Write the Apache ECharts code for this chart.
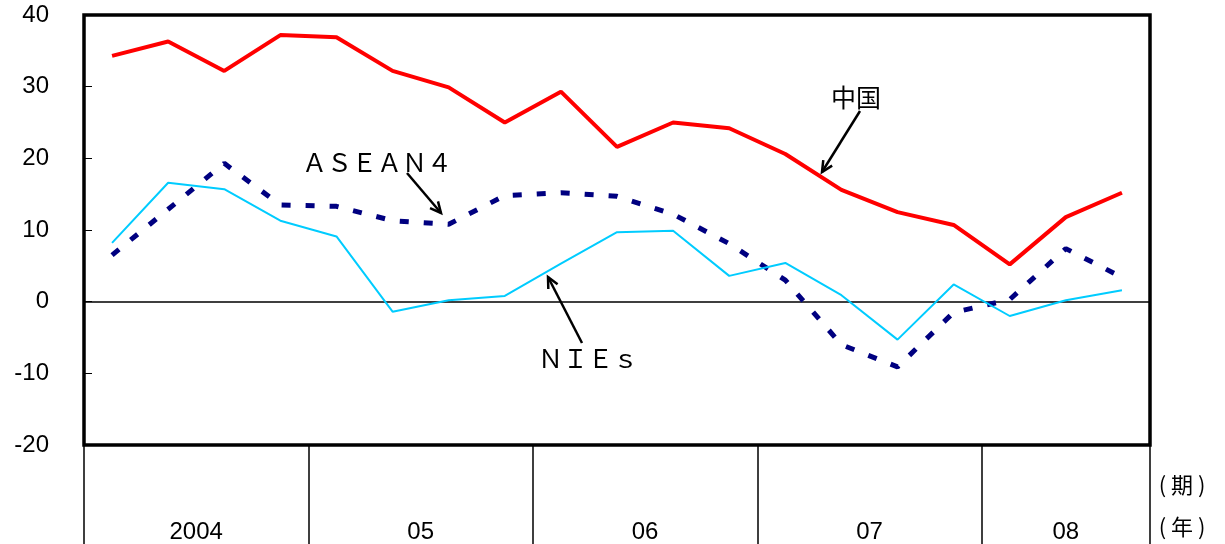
<!DOCTYPE html>
<html>
<head>
<meta charset="utf-8">
<script src="https://cdn.jsdelivr.net/npm/echarts@6/dist/echarts.min.js"></script>
<style>
  html, body { margin: 0; padding: 0; background: #fff; }
  #chart { width: 1225px; height: 544px; }
</style>
</head>
<body>
<div id="chart"></div>
<script>
// Quarterly year-on-year growth (%), 2004 Q1 – 2008 Q3
const quarters = [
  '2004Q1','2004Q2','2004Q3','2004Q4',
  '2005Q1','2005Q2','2005Q3','2005Q4',
  '2006Q1','2006Q2','2006Q3','2006Q4',
  '2007Q1','2007Q2','2007Q3','2007Q4',
  '2008Q1','2008Q2','2008Q3'
];
const china  = [34.3, 36.3, 32.2, 37.2, 36.9, 32.2, 29.9, 25.0, 29.3, 21.6, 25.0, 24.2, 20.6, 15.6, 12.5, 10.7, 5.2, 11.8, 15.2];
const asean4 = [6.5, 12.9, 19.3, 13.5, 13.3, 11.3, 10.8, 14.8, 15.2, 14.7, 12.2, 8.1, 3.0, -6.0, -9.1, -1.5, 0.3, 7.4, 3.4];
const nies   = [8.2, 16.6, 15.7, 11.3, 9.1, -1.4, 0.2, 0.8, 5.3, 9.7, 9.9, 3.6, 5.4, 0.9, -5.3, 2.4, -2.0, 0.2, 1.6];

// Year groups along the bottom
const yearLabels = ['2004', '05', '06', '07', '08'];
const quartersPerYear = [4, 4, 4, 4, 3];

// Y axis range
const yMin = -20, yMax = 40, yStep = 10;

// Year boundaries and label centres, in quarter units
const yearBounds = [0];
quartersPerYear.forEach(n => yearBounds.push(yearBounds[yearBounds.length - 1] + n));
const yearCentres = yearLabels.map((_, i) => (yearBounds[i] + yearBounds[i + 1]) / 2);

const latin = '"Liberation Sans", Arial, sans-serif';
const cjk = '"Noto Sans CJK JP", sans-serif';

const chart = echarts.init(document.getElementById('chart'));

// Arrow: a shaft from (x1,y1) to (x2,y2) with an open head at (x2,y2)
function arrow(x1, y1, x2, y2) {
  const a = Math.atan2(y2 - y1, x2 - x1);
  const L = 12, w = 0.45;
  const p1 = [x2 - L * Math.cos(a - w), y2 - L * Math.sin(a - w)];
  const p2 = [x2 - L * Math.cos(a + w), y2 - L * Math.sin(a + w)];
  return [
    { type: 'line', shape: { x1, y1, x2, y2 }, style: { stroke: '#000', lineWidth: 2.5 }, z: 100 },
    { type: 'polyline', shape: { points: [p1, [x2, y2], p2] }, style: { stroke: '#000', lineWidth: 2.5, fill: null }, z: 100 }
  ];
}

function label(text, x, y, font) {
  return {
    type: 'text', x, y, z: 100,
    style: { text, fill: '#000', font, textAlign: 'center', textVerticalAlign: 'middle' }
  };
}

chart.setOption({
  animation: false,
  grid: {
    left: 84, top: 15, right: 75, bottom: 97,
    show: true, borderColor: '#000', borderWidth: 3.5, backgroundColor: 'transparent'
  },
  xAxis: [
    {
      type: 'category',
      data: quarters,
      boundaryGap: true,
      axisLine: { onZero: true, lineStyle: { color: '#000', width: 1.5 } },
      axisTick: { show: false },
      axisLabel: { show: false },
      splitLine: { show: false }
    },
    {
      type: 'value',
      min: 0,
      max: quarters.length,
      position: 'bottom',
      axisLine: { show: false },
      splitLine: { show: false },
      axisTick: {
        show: true, length: 100, customValues: yearBounds,
        lineStyle: { color: '#000', width: 1.5 }
      },
      axisLabel: {
        show: true, margin: 75, customValues: yearCentres,
        formatter: v => {
          const i = yearCentres.indexOf(v);
          return i >= 0 ? yearLabels[i] : '';
        },
        color: '#000', fontSize: 24, fontFamily: latin
      }
    }
  ],
  yAxis: {
    type: 'value',
    min: yMin, max: yMax, interval: yStep,
    axisLine: { show: false },
    axisTick: { show: true, inside: true, length: 8, lineStyle: { color: '#000', width: 1 } },
    splitLine: { show: false },
    axisLabel: { color: '#000', fontSize: 24, fontFamily: latin, margin: 35 }
  },
  series: [
    {
      name: 'ASEAN4', type: 'line', data: asean4, symbol: 'none', z: 3,
      lineStyle: { color: '#000080', width: 5, type: [9, 15], cap: 'butt' }
    },
    {
      name: 'NIEs', type: 'line', data: nies, symbol: 'none', z: 4,
      lineStyle: { color: '#00ccff', width: 2 }
    },
    {
      name: '中国', type: 'line', data: china, symbol: 'none', z: 5,
      lineStyle: { color: '#ff0000', width: 4 }
    }
  ],
  graphic: [
    label('中国', 856, 97, '25px ' + cjk),
    ...arrow(860, 111, 822, 172),
    label('ＡＳＥＡＮ４', 377, 162, '25px ' + cjk),
    ...arrow(407, 173, 441, 213),
    label('ＮＩＥｓ', 588, 358, '25px ' + cjk),
    ...arrow(582, 343, 548, 277),
    label('( 期 )', 1182, 485, '22px ' + cjk),
    label('( 年 )', 1182, 527, '22px ' + cjk)
  ]
});
</script>
</body>
</html>
